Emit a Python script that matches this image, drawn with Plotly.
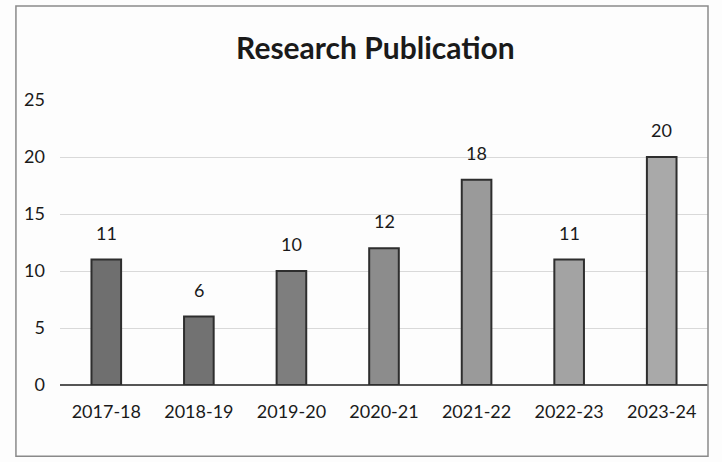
import plotly.graph_objects as go

years = ["2017-18", "2018-19", "2019-20", "2020-21", "2021-22", "2022-23", "2023-24"]
publications = [11, 6, 10, 12, 18, 11, 20]
bar_colors = ["#6f6f6f", "#727272", "#7e7e7e", "#8c8c8c", "#9a9a9a", "#a3a3a3", "#a9a9a9"]
y_ticks = [0, 5, 10, 15, 20, 25]

FONT = "Lato"
INK = "#1a1a1a"

fig = go.Figure(
    go.Bar(
        x=years,
        y=publications,
        marker=dict(color=bar_colors, line=dict(color="#2e2e2e", width=2)),
        width=0.32,
    )
)

# value labels sit well above each bar
for yr, v in zip(years, publications):
    fig.add_annotation(
        x=yr, y=v, text=str(v), showarrow=False,
        yanchor="bottom", yshift=14,
        font=dict(family=FONT, size=18, color=INK),
    )

fig.update_layout(
    width=722,
    height=462,
    margin=dict(l=60, r=14, t=100, b=77),
    paper_bgcolor="#fdfdfd",
    plot_bgcolor="#fdfdfd",
    showlegend=False,
    title=dict(
        text="<b>Research Publication</b>",
        x=0.52,
        xanchor="center",
        y=0.895,
        yanchor="middle",
        font=dict(family=FONT, size=30, color=INK),
    ),
    xaxis=dict(
        showgrid=False,
        tickfont=dict(family=FONT, size=18, color=INK),
        ticks="",
        showline=False,
        ticklabelstandoff=14,
    ),
    yaxis=dict(
        range=[0, 25],
        tickvals=y_ticks,
        tickfont=dict(family=FONT, size=18, color=INK),
        gridcolor="#d9d9d9",
        gridwidth=1,
        zeroline=True,
        zerolinecolor="#555555",
        zerolinewidth=1.5,
        ticklabelstandoff=14,
    ),
    shapes=[
        dict(type="rect", xref="paper", yref="paper", x0=-0.068, x1=1.0, y0=-0.25, y1=1.33,
             line=dict(color="#8a8a8a", width=1.5)),
    ],
)

fig.write_html("out.html")
